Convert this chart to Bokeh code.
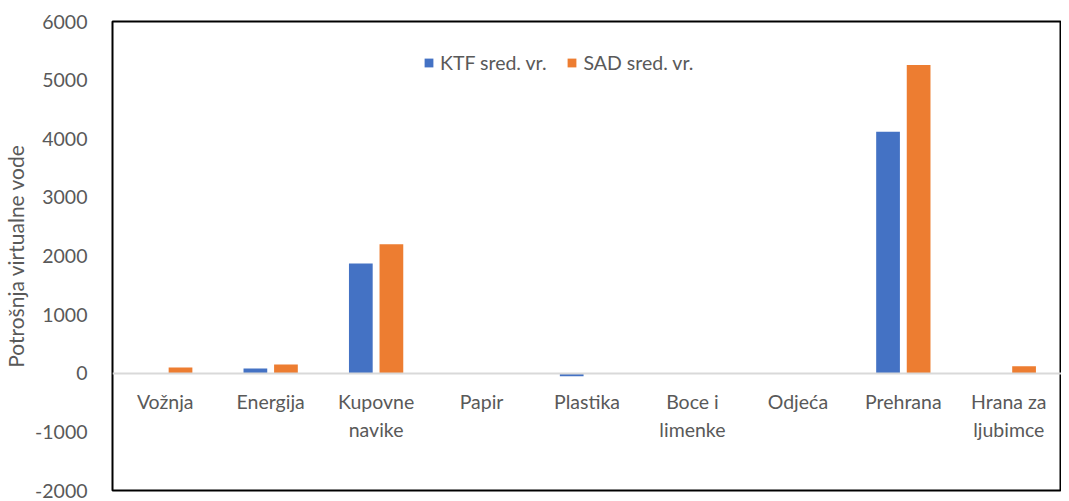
from bokeh.plotting import figure
from bokeh.models import ColumnDataSource, Legend, LegendItem, FixedTicker, Range1d, FactorRange
from bokeh.transform import dodge
from bokeh.embed import file_html
from bokeh.resources import INLINE

categories = ["Vožnja", "Energija", "Kupovne\nnavike", "Papir", "Plastika",
              "Boce i\nlimenke", "Odjeća", "Prehrana", "Hrana za\nljubimce"]
ktf = [0, 80, 1870, 0, -50, 0, 0, 4120, 0]
sad = [100, 150, 2200, 0, 0, 0, 0, 5260, 120]
y_ticks = [-2000, -1000, 0, 1000, 2000, 3000, 4000, 5000, 6000]

src = ColumnDataSource(dict(cat=categories, ktf=ktf, sad=sad))

FONT = "Lato"
GRAY = "#595959"

p = figure(x_range=FactorRange(*categories), y_range=Range1d(-2000, 6000),
           width=1061, height=500, output_backend="svg", toolbar_location=None,
           min_border_left=105, min_border_top=21, min_border_bottom=10,
           min_border_right=0)
p.outline_line_color = "black"
p.outline_line_width = 2
p.xgrid.visible = False
p.ygrid.visible = False
p.background_fill_color = "white"
p.border_fill_color = "white"

r1 = p.vbar(x=dodge("cat", -0.145, range=p.x_range), top="ktf", bottom=0, width=0.225,
            source=src, fill_color="#4472C4", line_color=None)
r2 = p.vbar(x=dodge("cat", 0.145, range=p.x_range), top="sad", bottom=0, width=0.225,
            source=src, fill_color="#ED7D31", line_color=None)

# y axis
ya = p.yaxis[0]
ya.ticker = FixedTicker(ticks=y_ticks)
ya.major_label_overrides = {t: str(t) for t in y_ticks}
ya.axis_line_color = None
ya.major_tick_line_color = None
ya.minor_tick_line_color = None
ya.major_label_text_font = FONT
ya.major_label_text_font_size = "19.5px"
ya.major_label_text_color = GRAY
ya.major_label_standoff = 19
ya.axis_label = "Potrošnja virtualne vode"
ya.axis_label_text_font = FONT
ya.axis_label_text_font_size = "21px"
ya.axis_label_text_font_style = "normal"
ya.axis_label_text_color = GRAY
ya.axis_label_standoff = 4

# x axis at zero
xa = p.xaxis[0]
xa.fixed_location = 0
xa.axis_line_color = "#D9D9D9"
xa.axis_line_width = 2
xa.major_tick_line_color = None
xa.minor_tick_line_color = None
xa.major_label_text_font = FONT
xa.major_label_text_font_size = "19.5px"
xa.major_label_text_color = GRAY
xa.major_label_standoff = 11
xa.major_label_text_line_height = 1.2

legend = Legend(items=[LegendItem(label="KTF sred. vr.", renderers=[r1]),
                       LegendItem(label="SAD sred. vr.", renderers=[r2])],
                orientation="horizontal", location=(311, 416),
                border_line_color=None, background_fill_alpha=0,
                label_text_font=FONT, label_text_font_size="19.5px",
                label_text_color=GRAY, glyph_width=11, glyph_height=11,
                label_standoff=6, spacing=20, padding=0, margin=0)
p.add_layout(legend, "center")

open("out.html", "w").write(file_html(p, INLINE))
